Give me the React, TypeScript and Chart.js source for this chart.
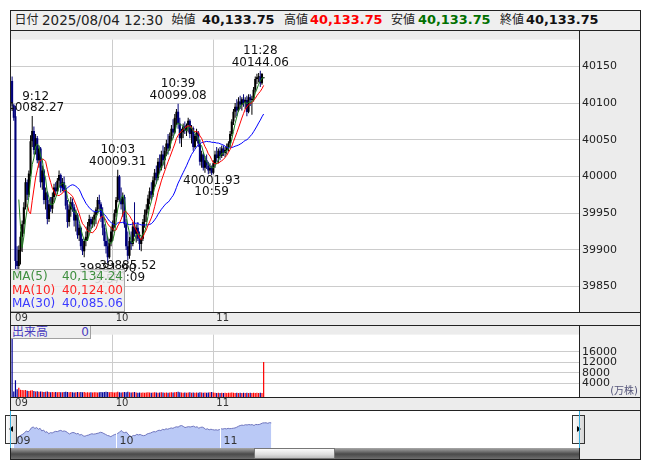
import React, { useEffect, useRef } from 'react';
import { Chart, registerables } from 'chart.js';

Chart.register(...registerables);

const FONT = '"DejaVu Sans", "Noto Sans CJK JP", sans-serif';

// 1-minute candles, 9:00 .. 11:30
const OPEN = [
  40130, 40097, 40082, 39885, 39878, 39898, 39918, 39935, 39958, 39992,
  39975, 40004, 40048, 40062, 40036, 40052, 40022, 40038, 39992, 40008,
  39968, 39978, 39942, 39962, 39956, 39972, 39985, 39980, 39994, 40002,
  39985, 39992, 39982, 39960, 39938, 39955, 39965, 39958, 39940, 39948,
  39920, 39930, 39905, 39898, 39912, 39918, 39932, 39942, 39935, 39940,
  39948, 39955, 39968, 39962, 39945, 39930, 39912, 39905, 39890, 39910,
  39925, 39935, 39950, 39968, 40000, 39970, 39962, 39972, 39935, 39905,
  39892, 39912, 39908, 39932, 39922, 39930, 39915, 39908, 39915, 39938,
  39948, 39955, 39970, 39980, 39975, 39995, 40005, 39998, 40020, 40012,
  40030, 40022, 40035, 40045, 40038, 40055, 40065, 40060, 40080, 40088,
  40072, 40052, 40060, 40068, 40062, 40070, 40076, 40058, 40066, 40040,
  40055, 40060, 40045, 40020, 40030, 40012, 40022, 40015, 40008, 40012,
  40005, 40018, 40030, 40025, 40035, 40028, 40038, 40032, 40036, 40040,
  40045, 40058, 40075, 40088, 40095, 40090, 40102, 40098, 40105, 40100,
  40104, 40088, 40108, 40104, 40106, 40118, 40132.8, 40135, 40136, 40127,
  40133.75,
];
const HIGH = [
  40136, 40099, 40096, 39905, 39906, 39925, 39940, 39965, 39998, 39996,
  40008, 40056, 40082.27, 40068, 40058, 40055, 40042, 40040, 40015, 40010,
  39985, 39980, 39968, 39972, 39978, 39990, 39992, 39998, 40008, 40004,
  39998, 40000, 39988, 39968, 39962, 39972, 39970, 39962, 39955, 39950,
  39935, 39932, 39915, 39915, 39925, 39938, 39948, 39945, 39945, 39952,
  39958, 39972, 39975, 39965, 39958, 39935, 39925, 39918, 39915, 39932,
  39940, 39955, 39972, 40009.31, 40002, 39985, 39978, 39975, 39942, 39925,
  39918, 39925, 39938, 39965, 39935, 39938, 39925, 39918, 39942, 39955,
  39962, 39975, 39985, 39992, 40000, 40010, 40015, 40025, 40030, 40035,
  40042, 40040, 40050, 40058, 40060, 40070, 40078, 40085, 40092, 40099.08,
  40080, 40065, 40072, 40075, 40072, 40080, 40078, 40070, 40068, 40058,
  40065, 40062, 40050, 40035, 40032, 40028, 40030, 40020, 40018, 40015,
  40022, 40035, 40040, 40038, 40040, 40042, 40042, 40040, 40045, 40048,
  40062, 40078, 40092, 40100, 40105, 40108, 40110, 40108, 40112, 40108,
  40110, 40112, 40112, 40110, 40122, 40136, 40140, 40141, 40144.06, 40141,
  40133.75,
];
const LOW = [
  40096, 40076, 39872, 39866, 39861, 39880, 39897, 39922, 39955, 39968,
  39972, 40000, 40040, 40030, 40030, 40018, 40012, 39985, 39982, 39962,
  39955, 39935, 39938, 39952, 39950, 39965, 39975, 39976, 39985, 39978,
  39980, 39978, 39955, 39930, 39932, 39945, 39952, 39932, 39925, 39915,
  39912, 39900, 39893, 39890, 39905, 39912, 39925, 39928, 39930, 39932,
  39935, 39950, 39955, 39938, 39920, 39905, 39895, 39881.9, 39888, 39905,
  39912, 39930, 39945, 39965, 39965, 39955, 39945, 39930, 39900, 39885.52,
  39888, 39900, 39905, 39918, 39910, 39912, 39900, 39898, 39912, 39930,
  39938, 39950, 39962, 39968, 39972, 39985, 39990, 39995, 40005, 40008,
  40015, 40010, 40028, 40030, 40035, 40048, 40052, 40058, 40070, 40065,
  40045, 40040, 40052, 40058, 40055, 40060, 40052, 40045, 40035, 40038,
  40048, 40040, 40015, 40012, 40008, 40005, 40010, 40003, 40004, 40001.93,
  40003, 40012, 40020, 40018, 40022, 40025, 40028, 40026, 40030, 40034,
  40040, 40055, 40070, 40080, 40082, 40088, 40092, 40090, 40095, 40092,
  40082, 40086, 40096, 40084, 40102, 40115, 40126, 40128, 40122, 40125,
  40133.75,
];
const CLOSE = [
  40100, 40080, 39885, 39878, 39900, 39918, 39935, 39958, 39992, 39975,
  40004, 40048, 40062, 40036, 40052, 40022, 40038, 39992, 40008, 39968,
  39978, 39942, 39962, 39956, 39972, 39985, 39980, 39994, 40002, 39985,
  39992, 39982, 39960, 39938, 39955, 39965, 39958, 39940, 39948, 39920,
  39930, 39905, 39898, 39912, 39918, 39932, 39942, 39935, 39940, 39948,
  39955, 39968, 39962, 39945, 39930, 39912, 39905, 39890, 39910, 39925,
  39935, 39950, 39968, 40000, 39970, 39962, 39972, 39935, 39905, 39892,
  39912, 39908, 39932, 39922, 39930, 39915, 39908, 39915, 39938, 39948,
  39955, 39970, 39980, 39975, 39995, 40005, 39998, 40020, 40012, 40030,
  40022, 40035, 40045, 40038, 40055, 40065, 40060, 40080, 40088, 40072,
  40052, 40060, 40068, 40062, 40070, 40076, 40058, 40066, 40040, 40055,
  40060, 40045, 40020, 40030, 40012, 40022, 40015, 40008, 40012, 40005,
  40018, 40030, 40025, 40035, 40028, 40038, 40032, 40036, 40040, 40045,
  40058, 40075, 40088, 40095, 40090, 40102, 40098, 40105, 40100, 40104,
  40087.8, 40108, 40104, 40106, 40118, 40132.8, 40135, 40136, 40127, 40139.45,
  40133.75,
];
// volume (万株)
const VOLUME = [
  30000, 900, 5200, 1800, 2300, 1600, 1500, 1400, 1500, 1200,
  1100, 1300, 1400, 1100, 900, 1000, 800, 900, 800, 700,
  800, 900, 700, 600, 700, 600, 700, 600, 700, 600,
  600, 700, 800, 700, 600, 700, 600, 500, 600, 700,
  600, 700, 600, 700, 500, 600, 500, 600, 500, 600,
  600, 500, 600, 700, 600, 700, 800, 700, 600, 700,
  600, 500, 600, 800, 600, 500, 600, 700, 600, 800,
  600, 500, 600, 700, 500, 400, 500, 400, 500, 400,
  500, 600, 500, 400, 500, 600, 500, 400, 500, 600,
  500, 400, 500, 400, 500, 600, 500, 600, 700, 800,
  600, 500, 400, 500, 400, 500, 600, 400, 500, 400,
  500, 400, 600, 500, 400, 500, 400, 500, 600, 700,
  500, 400, 300, 400, 300, 400, 300, 400, 300, 400,
  400, 500, 400, 300, 400, 300, 400, 300, 400, 300,
  400, 300, 400, 300, 400, 300, 400, 300, 400, 300,
  12200,
];

const PRICE_TICKS = [39850, 39900, 39950, 40000, 40050, 40100, 40150];
const VOLUME_TICKS = [4000, 8000, 12000, 16000];
const TIME_TICKS = [0, 60, 120];
const TIME_TICK_LABELS = ['09', '10', '11'];
const MA_PERIODS = [5, 10, 30];
const MA_COLORS = ['#1f7f1f', '#ff0000', '#0000ff'];
const MA_TEXT_COLORS = ['#3f8f3f', '#ff2525', '#3a3aff'];
const MARKERS = [
  { index: 12, kind: 'high' },
  { index: 63, kind: 'high' },
  { index: 99, kind: 'high' },
  { index: 148, kind: 'high' },
  { index: 119, kind: 'low' },
  { index: 57, kind: 'low' },
  { index: 69, kind: 'low' },
];
const HEADER_DATE = '2025/08/04 12:30';

const PRICE_MIN = 39815.4;
const PRICE_MAX = 40186.4;
const VOL_MIN = -1190;
const VOL_MAX = 22612;
const X_MIN = -0.656;
const X_MAX = 338.05;
const NAV_X_MIN = -0.87;
const NAV_X_MAX = 328.4;
const NAV_Y_MIN = 39690;
const NAV_Y_MAX = 40345;

function movingAverage(values: number[], n: number) {
  const out: { x: number; y: number }[] = [];
  let sum = 0;
  for (let i = 0; i < values.length; i++) {
    sum += values[i];
    if (i >= n) sum -= values[i - n];
    if (i >= n - 1) out.push({ x: i, y: sum / n });
  }
  return out;
}

const timeLabel = (i: number) => `${9 + Math.floor(i / 60)}:${String(i % 60).padStart(2, '0')}`;
const fmtComma = (v: number) =>
  v.toLocaleString('en-US', { minimumFractionDigits: 2, maximumFractionDigits: 2 });

const isUp = (i: number) => CLOSE[i] >= OPEN[i];

const whiteArea = {
  id: 'whiteArea',
  beforeDraw(chart: any) {
    const { ctx, chartArea: a } = chart;
    ctx.save();
    ctx.fillStyle = '#ffffff';
    ctx.fillRect(a.left, a.top, a.right - a.left, a.bottom - a.top);
    ctx.restore();
  },
};

const markerPlugin = {
  id: 'markers',
  afterDatasetsDraw(chart: any) {
    const { ctx, chartArea, scales } = chart;
    const x = scales.x;
    const y = scales.y;
    ctx.save();
    ctx.font = `12px ${FONT}`;
    ctx.fillStyle = '#111111';
    ctx.textAlign = 'center';
    ctx.textBaseline = 'middle';
    for (const mk of MARKERS) {
      const i = mk.index;
      const v = mk.kind === 'high' ? HIGH[i] : LOW[i];
      const priceText = v.toFixed(2);
      const tText = timeLabel(i);
      const w = Math.max(ctx.measureText(priceText).width, ctx.measureText(tText).width);
      let px = x.getPixelForValue(i);
      px = Math.max(px, chartArea.left - 4 + w / 2);
      const py = y.getPixelForValue(v);
      if (mk.kind === 'high') {
        ctx.fillText(priceText, px, py - 8);
        ctx.fillText(tText, px, py - 19.5);
      } else {
        ctx.fillText(priceText, px, py + 5.5);
        ctx.fillText(tText, px, py + 17);
      }
    }
    ctx.restore();
  },
};

const navPlugin = {
  id: 'navDecor',
  afterDatasetsDraw(chart: any) {
    const { ctx, chartArea, scales } = chart;
    const x = scales.x;
    ctx.save();
    ctx.strokeStyle = '#ffffff';
    ctx.lineWidth = 1;
    ctx.font = `11px ${FONT}`;
    ctx.fillStyle = '#333333';
    ctx.textBaseline = 'middle';
    ctx.textAlign = 'left';
    TIME_TICKS.forEach((t, k) => {
      const px = Math.round(x.getPixelForValue(t)) + 0.5;
      ctx.beginPath();
      ctx.moveTo(px, chartArea.top);
      ctx.lineTo(px, chartArea.bottom);
      ctx.stroke();
      ctx.fillText(TIME_TICK_LABELS[k], px + 3, chartArea.bottom - 7);
    });
    ctx.restore();
  },
};

function timeAxis() {
  return {
    type: 'linear',
    position: 'bottom',
    min: X_MIN,
    max: X_MAX,
    offset: false,
    afterBuildTicks: (s: any) => {
      s.ticks = TIME_TICKS.map((v) => ({ value: v }));
    },
    afterFit: (s: any) => {
      s.height = 13;
    },
    ticks: {
      autoSkip: false,
      maxRotation: 0,
      minRotation: 0,
      align: 'start',
      labelOffset: 3,
      padding: 0,
      font: { family: FONT, size: 10 },
      color: '#333333',
      callback: (v: number) => TIME_TICK_LABELS[TIME_TICKS.indexOf(v)],
    },
    grid: {
      color: (c: any) => (c.tick && c.tick.value === 0 ? 'rgba(0,0,0,0)' : '#cccccc'),
      drawTicks: false,
      offset: false,
    },
    border: { display: false },
  };
}

function valueAxis(min: number, max: number, ticks: number[]) {
  return {
    type: 'linear',
    position: 'right',
    min,
    max,
    afterBuildTicks: (s: any) => {
      s.ticks = ticks.map((v) => ({ value: v }));
    },
    afterFit: (s: any) => {
      s.width = 61;
    },
    ticks: {
      padding: 3,
      font: { family: FONT, size: 11 },
      color: '#222222',
      callback: (v: number) => String(v),
    },
    grid: { color: '#cccccc', drawTicks: false },
    border: { display: false },
  };
}

const baseOptions = {
  animation: false,
  responsive: false,
  maintainAspectRatio: false,
  devicePixelRatio: 1,
  events: [],
  layout: { padding: 0, autoPadding: false },
  plugins: { legend: { display: false }, tooltip: { enabled: false } },
};

const MA_SERIES = MA_PERIODS.map((n) => movingAverage(CLOSE, n));

export default function App() {
  const mainRef = useRef<HTMLCanvasElement>(null);
  const volRef = useRef<HTMLCanvasElement>(null);
  const navRef = useRef<HTMLCanvasElement>(null);

  useEffect(() => {
    const candleColors = CLOSE.map((_, i) => (isUp(i) ? '#000000' : '#00007a'));
    const volColors = CLOSE.map((_, i) => (isUp(i) ? '#ff0000' : '#000099'));

    const main = new Chart(mainRef.current as HTMLCanvasElement, {
      type: 'bar',
      data: {
        datasets: [
          ...MA_SERIES.map((s, k) => ({
            type: 'line',
            data: s,
            borderColor: MA_COLORS[k],
            borderWidth: 1,
            pointRadius: 0,
            fill: false,
            tension: 0,
            order: 0,
          })),
          {
            type: 'bar',
            data: CLOSE.map((c, i) => ({ x: i, y: [OPEN[i], c] })),
            backgroundColor: candleColors,
            grouped: false,
            barPercentage: 1.25,
            categoryPercentage: 1,
            minBarLength: 1,
            order: 1,
          },
          {
            type: 'bar',
            data: CLOSE.map((_, i) => ({ x: i, y: [LOW[i], HIGH[i]] })),
            backgroundColor: candleColors,
            grouped: false,
            maxBarThickness: 1,
            order: 2,
          },
        ],
      } as any,
      options: {
        ...baseOptions,
        scales: {
          x: timeAxis(),
          y: valueAxis(PRICE_MIN, PRICE_MAX, PRICE_TICKS),
        },
      } as any,
      plugins: [whiteArea, markerPlugin],
    });

    const vol = new Chart(volRef.current as HTMLCanvasElement, {
      type: 'bar',
      data: {
        datasets: [
          {
            data: VOLUME.map((v, i) => ({ x: i, y: v })),
            backgroundColor: volColors,
            base: VOL_MIN,
            grouped: false,
            maxBarThickness: 1.4,
          },
        ],
      } as any,
      options: {
        ...baseOptions,
        scales: {
          x: timeAxis(),
          y: valueAxis(VOL_MIN, VOL_MAX, VOLUME_TICKS),
        },
      } as any,
      plugins: [whiteArea],
    });

    const nav = new Chart(navRef.current as HTMLCanvasElement, {
      type: 'line',
      data: {
        datasets: [
          {
            data: CLOSE.map((c, i) => ({ x: i, y: c })),
            borderColor: 'rgb(112,118,190)',
            backgroundColor: 'rgb(186,201,246)',
            borderWidth: 1,
            pointRadius: 0,
            fill: 'start',
            tension: 0,
          },
        ],
      } as any,
      options: {
        ...baseOptions,
        scales: {
          x: { type: 'linear', display: false, min: NAV_X_MIN, max: NAV_X_MAX },
          y: { type: 'linear', display: false, min: NAV_Y_MIN, max: NAV_Y_MAX },
        },
      } as any,
      plugins: [navPlugin],
    });

    return () => {
      main.destroy();
      vol.destroy();
      nav.destroy();
    };
  }, []);

  const last = CLOSE.length - 1;
  const maLast = MA_SERIES.map((s) => s[s.length - 1].y);

  const abs = (l: number, t: number, w: number, h: number, extra: any = {}) => ({
    position: 'absolute' as const,
    left: l,
    top: t,
    width: w,
    height: h,
    ...extra,
  });
  const hLine = (y: number, x1: number, x2: number, color = '#222') => (
    <div key={`h${y}-${x1}`} style={abs(x1, y, x2 - x1, 1, { background: color })} />
  );
  const vLine = (x: number, y1: number, y2: number, color = '#222') => (
    <div key={`v${x}-${y1}`} style={abs(x, y1, 1, y2 - y1, { background: color })} />
  );

  const headerSpan = (l: number, text: string, extra: any = {}) => (
    <span
      style={{
        position: 'absolute',
        left: l,
        top: 10,
        height: 20,
        lineHeight: '20px',
        whiteSpace: 'nowrap',
        fontSize: 13.5,
        color: '#222',
        ...extra,
      }}
    >
      {text}
    </span>
  );
  const cjk = { fontSize: 12 };
  const bold = { fontWeight: 'bold', fontSize: 12.9, color: '#111' };

  const btnBg = 'linear-gradient(to right, #ffffff, #d4d4d4)';

  return (
    <div
      style={{
        position: 'fixed',
        left: 0,
        top: 0,
        width: 653,
        height: 470,
        background: '#ffffff',
        fontFamily: FONT,
        overflow: 'hidden',
      }}
    >
      {/* header */}
      <div style={abs(10, 10, 630, 20, { background: '#efefef' })} />
      {headerSpan(14.5, '日付', cjk)}
      {headerSpan(42, HEADER_DATE)}
      {headerSpan(171.5, '始値', cjk)}
      {headerSpan(202, fmtComma(OPEN[last]), bold)}
      {headerSpan(284, '高値', cjk)}
      {headerSpan(310, fmtComma(HIGH[last]), { ...bold, color: '#ff0000' })}
      {headerSpan(391, '安値', cjk)}
      {headerSpan(418, fmtComma(LOW[last]), { ...bold, color: '#007000' })}
      {headerSpan(500, '終値', cjk)}
      {headerSpan(526, fmtComma(CLOSE[last]), bold)}

      {/* main price panel */}
      <div style={abs(11, 30, 629, 295, { background: '#ececec' })}>
        <canvas ref={mainRef} width={629} height={295} style={{ display: 'block', width: 629, height: 295 }} />
      </div>

      {/* MA legend */}
      <div
        style={abs(10, 269, 115, 43, {
          background: 'rgba(238,238,238,0.86)',
          border: '1px solid #a8a8a8',
          boxSizing: 'border-box',
          fontSize: 12,
        })}
      >
        {MA_PERIODS.map((n, k) => (
          <div
            key={n}
            style={{
              position: 'absolute',
              left: 1,
              right: 1,
              top: k * 13.5,
              height: 13.5,
              lineHeight: '13.5px',
              color: MA_TEXT_COLORS[k],
              whiteSpace: 'nowrap',
            }}
          >
            <span style={{ position: 'absolute', left: 0 }}>{`MA(${n})`}</span>
            <span style={{ position: 'absolute', right: 0 }}>{fmtComma(maLast[k])}</span>
          </div>
        ))}
      </div>

      {/* volume panel */}
      <div style={abs(11, 325, 629, 85, { background: '#ececec' })}>
        <canvas ref={volRef} width={629} height={85} style={{ display: 'block', width: 629, height: 85 }} />
      </div>
      <div
        style={abs(10, 325, 81, 14, {
          background: '#eeeeee',
          border: '1px solid #a0a0a0',
          boxSizing: 'border-box',
          fontSize: 12,
          lineHeight: '12px',
          color: '#4a3cc0',
        })}
      >
        <span style={{ position: 'absolute', left: 1, top: 0 }}>出来高</span>
        <span style={{ position: 'absolute', right: 1, top: 0 }}>0</span>
      </div>
      <span
        style={{
          position: 'absolute',
          right: 653 - 638,
          top: 384,
          fontSize: 10,
          lineHeight: '13px',
          color: '#55557a',
          whiteSpace: 'nowrap',
        }}
      >
        (万株)
      </span>

      {/* navigator */}
      <div style={abs(579, 410, 61, 49, { background: '#ececec' })} />
      <div style={abs(11, 411, 568, 37, { background: '#ffffff' })}>
        <canvas ref={navRef} width={568} height={37} style={{ display: 'block', width: 568, height: 37 }} />
      </div>
      {/* scroll buttons */}
      <div
        style={abs(5, 415, 12, 29, {
          background: btnBg,
          border: '1px solid #333',
          boxSizing: 'border-box',
        })}
      >
        <div
          style={{
            position: 'absolute',
            left: 3,
            top: 10,
            width: 0,
            height: 0,
            borderTop: '3.5px solid transparent',
            borderBottom: '3.5px solid transparent',
            borderRight: '4px solid #000',
          }}
        />
      </div>
      <div
        style={abs(572, 415, 13, 29, {
          background: btnBg,
          border: '1px solid #333',
          boxSizing: 'border-box',
        })}
      >
        <div
          style={{
            position: 'absolute',
            left: 4,
            top: 10,
            width: 0,
            height: 0,
            borderTop: '3.5px solid transparent',
            borderBottom: '3.5px solid transparent',
            borderLeft: '4px solid #000',
          }}
        />
      </div>
      {/* scrollbar */}
      <div
        style={abs(11, 448, 568, 11, {
          background: 'linear-gradient(#a8a8a8, #4a4a4a 55%, #6e6e6e)',
        })}
      />
      <div
        style={abs(254, 448, 81, 11, {
          background: 'linear-gradient(#fbfbfb, #dedede 60%, #bdbdbd)',
          border: '1px solid #777',
          boxSizing: 'border-box',
        })}
      />

      {/* frame lines */}
      {hLine(10, 10, 641)}
      {hLine(30, 10, 641)}
      {hLine(312, 10, 641)}
      {hLine(325, 10, 641)}
      {hLine(397, 10, 641)}
      {hLine(410, 10, 641)}
      {hLine(459, 10, 641)}
      {vLine(10, 10, 460)}
      {vLine(640, 10, 460)}
      {vLine(579, 30, 312)}
      {vLine(579, 325, 397)}
      {vLine(579, 448, 459)}
      {vLine(10, 411, 448, '#38b0e0')}
      {vLine(579, 411, 448, '#38b0e0')}
    </div>
  );
}
